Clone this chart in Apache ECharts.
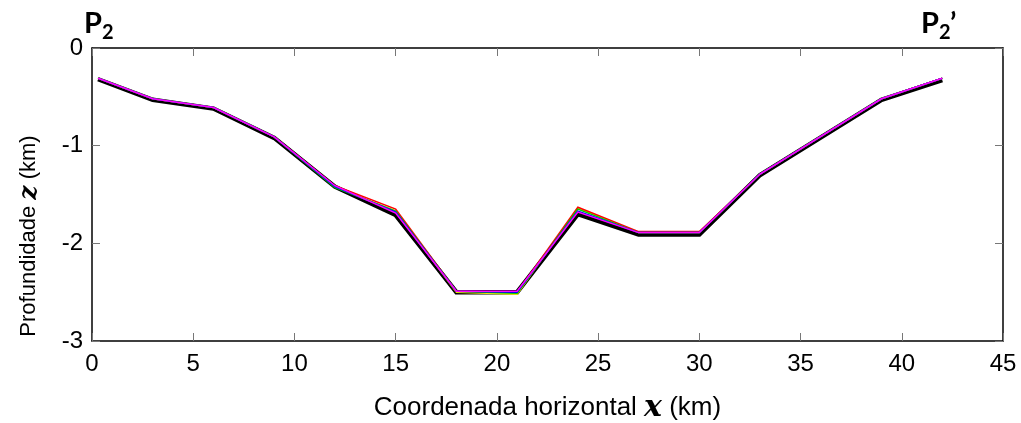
<!DOCTYPE html>
<html>
<head>
<meta charset="utf-8">
<script src="https://cdn.jsdelivr.net/npm/echarts@6/dist/echarts.min.js"></script>
<style>html,body{margin:0;padding:0;background:#fff}#c{width:1021px;height:423px}</style>
</head>
<body>
<div id="c"></div>
<script>
var xs = [0.3, 3, 6, 9, 12, 15, 18, 21, 24, 27, 30, 33, 39, 42];
var zBlack   = [-0.32,-0.53,-0.62,-0.92,-1.42,-1.71,-2.50,-2.50,-1.70,-1.91,-1.91,-1.30,-0.53,-0.33];
var zYellow  = [-0.31,-0.52,-0.61,-0.91,-1.42,-1.67,-2.50,-2.52,-1.64,-1.89,-1.89,-1.29,-0.52,-0.31];
var zRed     = [-0.31,-0.52,-0.61,-0.91,-1.41,-1.65,-2.49,-2.50,-1.63,-1.88,-1.88,-1.29,-0.52,-0.31];
var zGreen   = [-0.31,-0.52,-0.61,-0.91,-1.43,-1.67,-2.49,-2.51,-1.65,-1.89,-1.89,-1.29,-0.52,-0.31];
var zBlue    = [-0.31,-0.52,-0.61,-0.91,-1.42,-1.68,-2.49,-2.50,-1.67,-1.89,-1.89,-1.29,-0.52,-0.31];
var zMagenta = [-0.31,-0.52,-0.61,-0.91,-1.41,-1.69,-2.49,-2.49,-1.68,-1.89,-1.89,-1.29,-0.52,-0.31];
var xTicks = [0,5,10,15,20,25,30,35,40,45];
var yTicks = [0,-1,-2,-3];

function pts(z){ return xs.map(function(x,i){ return [x, z[i]]; }); }
function line(name, z, color, width){
  return { name:name, type:'line', data:pts(z), symbol:'none', animation:false,
    lineStyle:{color:color, width:width, join:'miter'}, silent:true };
}
var chart = echarts.init(document.getElementById('c'));
var font = 'Liberation Sans, Arial, sans-serif';
var tickStyle = {show:true, inside:true, length:8, lineStyle:{color:'#777', width:1}};
chart.setOption({
  animation:false,
  backgroundColor:'#fff',
  grid:{left:92, right:18, top:48, bottom:82, containLabel:false, outerBoundsMode:'none'},
  xAxis:[{
    type:'value', min:0, max:45, interval:5, position:'bottom',
    axisLine:{show:true, onZero:false, lineStyle:{color:'#000', width:1.5}},
    axisTick:tickStyle, splitLine:{show:false},
    axisLabel:{color:'#000', fontSize:24, fontFamily:font, margin:11},
    name:'{t|Coordenada horizontal }{v|𝒙}{t| (km)}', nameLocation:'middle', nameGap:52,
    nameTextStyle:{rich:{t:{fontSize:26, fontFamily:font, color:'#000'}, v:{fontSize:30, fontFamily:'DejaVu Serif, serif', fontWeight:'bold', fontStyle:'italic', color:'#000'}}}
  },{
    type:'value', min:0, max:45, interval:5, position:'top',
    axisLine:{show:true, onZero:false, lineStyle:{color:'#000', width:1.5}},
    axisTick:tickStyle, axisLabel:{show:false}, splitLine:{show:false}
  }],
  yAxis:[{
    type:'value', min:-3, max:0, interval:1, position:'left',
    axisLine:{show:true, onZero:false, lineStyle:{color:'#000', width:1.5}},
    axisTick:tickStyle, splitLine:{show:false},
    axisLabel:{color:'#000', fontSize:24, fontFamily:font, margin:9}
  },{
    type:'value', min:-3, max:0, interval:1, position:'right',
    axisLine:{show:true, onZero:false, lineStyle:{color:'#000', width:1.5}},
    axisTick:tickStyle, axisLabel:{show:false}, splitLine:{show:false}
  }],
  series:[
    line('modelo', zBlack, '#000000', 4.5),
    line('y', zYellow, '#e8e800', 1.5),
    line('r', zRed, '#ff0000', 1.5),
    line('g', zGreen, '#00cc00', 1.5),
    line('b', zBlue, '#0000ff', 1.5),
    line('m', zMagenta, '#ff00ff', 1.5)
  ],
  graphic:[
    {type:'text', x:29, y:236, rotation:Math.PI/2,
      style:{text:'{t|Profundidade }{v|𝒛}{t| (km)}', align:'center', verticalAlign:'middle',
        rich:{t:{fontSize:22, fontFamily:font, fill:'#000'}, v:{fontSize:25, fontFamily:'DejaVu Serif, serif', fontWeight:'bold', fontStyle:'italic', fill:'#000'}}}},
    {type:'text', left:84, top:9, style:{text:'P', font:'bold 29px Lato, sans-serif', fill:'#000'}},
    {type:'text', left:102, top:23, style:{text:'2', font:'bold 20px Lato, sans-serif', fill:'#000'}},
    {type:'text', left:921, top:9, style:{text:'P', font:'bold 29px Lato, sans-serif', fill:'#000'}},
    {type:'text', left:939, top:23, style:{text:'2', font:'bold 20px Lato, sans-serif', fill:'#000'}},
    {type:'text', left:950, top:9, style:{text:'’', font:'bold 29px Lato, sans-serif', fill:'#000'}}
  ]
});
</script>
</body>
</html>
